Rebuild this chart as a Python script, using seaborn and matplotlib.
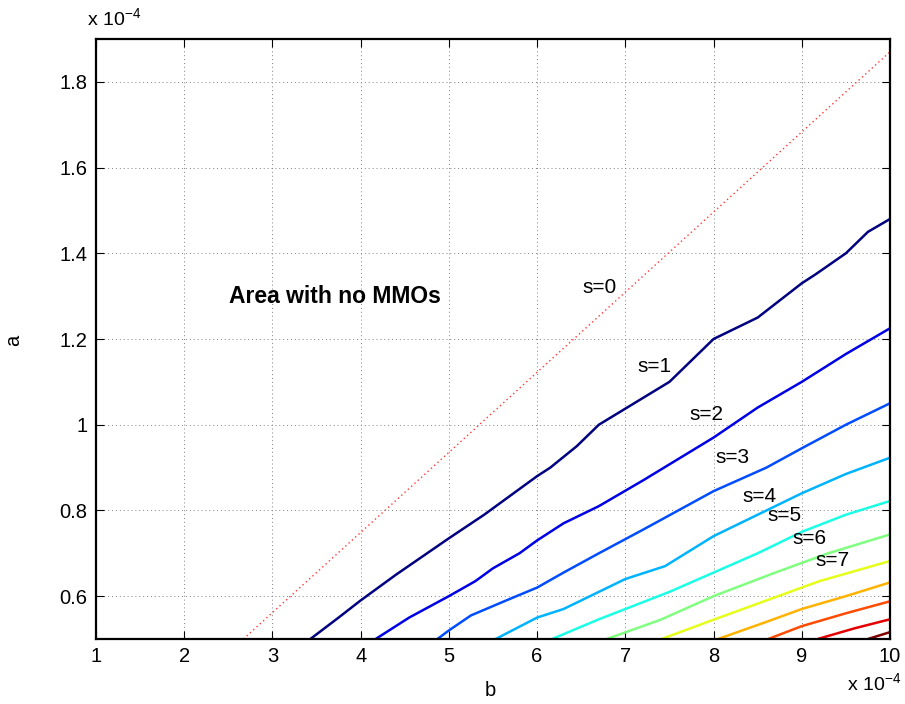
import numpy as np
import pandas as pd
import matplotlib
matplotlib.use("Agg")
import matplotlib.pyplot as plt
import seaborn as sns

# boundary curves in the (b, a) plane, both in units of 1e-4
s0_b = [2.67, 10.0]
s0_a = [0.5, 1.87]

s1_b = [3.43, 3.75, 4.0, 4.4, 5.0, 5.4, 6.0, 6.15, 6.45, 6.7, 7.1, 7.5, 8.0, 8.5, 8.75, 9.0, 9.15, 9.5, 9.75, 10.0]
s1_a = [0.5, 0.55, 0.59, 0.65, 0.735, 0.79, 0.88, 0.90, 0.95, 1.0, 1.05, 1.10, 1.2, 1.25, 1.29, 1.33, 1.35, 1.40, 1.45, 1.48]

s2_b = [4.17, 4.55, 5.0, 5.3, 5.5, 5.8, 6.0, 6.3, 6.7, 7.2, 7.6, 8.0, 8.5, 9.0, 9.5, 10.0]
s2_a = [0.5, 0.55, 0.6, 0.635, 0.665, 0.70, 0.73, 0.77, 0.81, 0.87, 0.92, 0.97, 1.04, 1.10, 1.165, 1.225]

s3_b = [4.87, 5.0, 5.25, 5.65, 6.0, 6.3, 6.7, 7.2, 8.0, 8.6, 9.0, 9.5, 10.0]
s3_a = [0.5, 0.52, 0.555, 0.59, 0.62, 0.655, 0.70, 0.755, 0.845, 0.90, 0.945, 1.0, 1.05]

s4_b = [5.53, 6.0, 6.3, 6.7, 7.0, 7.45, 8.0, 8.6, 9.0, 9.5, 10.0]
s4_a = [0.5, 0.55, 0.57, 0.61, 0.64, 0.67, 0.74, 0.80, 0.84, 0.885, 0.923]

s5_b = [6.17, 6.7, 7.0, 7.5, 8.0, 8.5, 9.0, 9.5, 10.0]
s5_a = [0.5, 0.546, 0.57, 0.61, 0.655, 0.70, 0.75, 0.79, 0.822]

s6_b = [6.79, 7.4, 8.0, 8.7, 9.3, 10.0]
s6_a = [0.5, 0.545, 0.60, 0.655, 0.70, 0.744]

s7_b = [7.41, 8.0, 8.6, 9.2, 10.0]
s7_a = [0.5, 0.545, 0.59, 0.635, 0.682]

s8_b = [8.05, 8.6, 9.0, 9.5, 10.0]
s8_a = [0.5, 0.54, 0.57, 0.60, 0.632]

s9_b = [8.62, 9.0, 9.5, 10.0]
s9_a = [0.5, 0.53, 0.56, 0.588]

s10_b = [9.18, 9.6, 10.0]
s10_a = [0.5, 0.525, 0.546]

s11_b = [9.75, 10.0]
s11_a = [0.5, 0.516]

curves_b = [s1_b, s2_b, s3_b, s4_b, s5_b, s6_b, s7_b, s8_b, s9_b, s10_b, s11_b]
curves_a = [s1_a, s2_a, s3_a, s4_a, s5_a, s6_a, s7_a, s8_a, s9_a, s10_a, s11_a]

# curve labels and where they sit
label_text = ["s=0", "s=1", "s=2", "s=3", "s=4", "s=5", "s=6", "s=7"]
label_b = [6.71, 7.33, 7.92, 8.22, 8.52, 8.80, 9.09, 9.35]
label_a = [1.32, 1.137, 1.024, 0.923, 0.833, 0.788, 0.734, 0.684]

x_ticks = [1, 2, 3, 4, 5, 6, 7, 8, 9, 10]
y_ticks = [0.6, 0.8, 1.0, 1.2, 1.4, 1.6, 1.8]
y_tick_labels = ["0.6", "0.8", "1", "1.2", "1.4", "1.6", "1.8"]


def jet(x):
    """Classic piecewise-linear jet colour at position x in [0, 1]."""
    r = np.clip(min(4 * x - 1.5, -4 * x + 4.5), 0, 1)
    g = np.clip(min(4 * x - 0.5, -4 * x + 3.5), 0, 1)
    b = np.clip(min(4 * x + 0.5, -4 * x + 2.5), 0, 1)
    return (float(r), float(g), float(b))


sns.set_style("ticks")
plt.rcParams["font.family"] = ["Liberation Sans", "DejaVu Sans"]
plt.rcParams["text.color"] = "black"
plt.rcParams["mathtext.fontset"] = "custom"
plt.rcParams["mathtext.rm"] = "Liberation Sans"
plt.rcParams["mathtext.it"] = "Liberation Sans"

fig = plt.figure(figsize=(9.05, 7.04), dpi=100)
ax = fig.add_axes([96 / 905, 65 / 704, 794 / 905, 600 / 704])

frames = []
for i, (bb, aa) in enumerate(zip(curves_b, curves_a), start=1):
    frames.append(pd.DataFrame({"b": bb, "a": aa, "s": i}))
df = pd.concat(frames, ignore_index=True)

n = len(curves_b)
palette = {i + 1: jet(i / (n - 1)) for i in range(n)}

sns.lineplot(data=df, x="b", y="a", hue="s", palette=palette, sort=False,
             estimator=None, linewidth=1.8, legend=False, ax=ax)

df0 = pd.DataFrame({"b": s0_b, "a": s0_a})
sns.lineplot(data=df0, x="b", y="a", color="#ff3838", linestyle=(0, (1, 2.2)),
             linewidth=1.0, sort=False, estimator=None, legend=False, ax=ax)

for t, xb, ya in zip(label_text, label_b, label_a):
    ax.text(xb, ya, t, fontsize=15, ha="center", va="center", color="black")

ax.text(2.51, 1.30, "Area with no MMOs", fontsize=16.5, fontweight="bold",
        ha="left", va="center", color="black")

ax.set_xlim(1, 10)
ax.set_ylim(0.5, 1.9)
ax.set_xticks(x_ticks)
ax.set_xticklabels([str(v) for v in x_ticks])
ax.set_yticks(y_ticks)
ax.set_yticklabels(y_tick_labels)
ax.tick_params(direction="in", length=6, width=0.8, labelsize=14.5,
               top=True, right=True, colors="black", pad=6)
ax.grid(True, linestyle=(0, (1, 3)), color="0.5", linewidth=0.7)
for sp in ax.spines.values():
    sp.set_visible(True)
    sp.set_linewidth(1.6)
    sp.set_color("black")

ax.set_xlabel("")
ax.set_ylabel("")
fig.text(490 / 905, 1 - 690 / 704, "b", fontsize=14.5, ha="center", va="center")
fig.text(14 / 905, 1 - 340 / 704, "a", fontsize=14.5, ha="center", va="center",
         rotation=90)

fig.text(87 / 905, 1 - 18 / 704, r"x 10$^{-4}$", fontsize=14, ha="left", va="center")
fig.text(847 / 905, 1 - 683 / 704, r"x 10$^{-4}$", fontsize=14, ha="left", va="center")

fig.savefig("out.png", dpi=100)
